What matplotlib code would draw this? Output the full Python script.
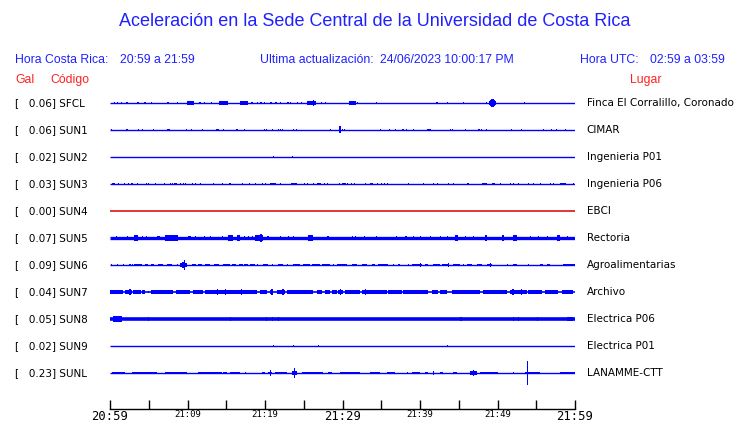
import matplotlib.pyplot as plt

# station info
stations = ["SFCL", "SUN1", "SUN2", "SUN3", "SUN4", "SUN5",
            "SUN6", "SUN7", "SUN8", "SUN9", "SUNL"]
gal = [0.06, 0.06, 0.02, 0.03, 0.00, 0.07, 0.09, 0.04, 0.05, 0.02, 0.23]
places = ["Finca El Corralillo, Coronado", "CIMAR", "Ingenieria P01",
          "Ingenieria P06", "EBCI", "Rectoria", "Agroalimentarias",
          "Archivo", "Electrica P06", "Electrica P01", "LANAMME-CTT"]

# time axis (minutes after 20:59)
tick_minutes = [0, 5, 10, 15, 20, 25, 30, 35, 40, 45, 50, 55, 60]
tick_labels = ["20:59", "", "21:09", "", "21:19", "", "21:29",
               "", "21:39", "", "21:49", "", "21:59"]
big_labels = ["20:59", "21:29", "21:59"]

# bursts: (start minute, end minute, half amplitude in row units)
sfcl_bursts = [
    (0.5, 0.5, .04), (0.9, 1.0, .04), (1.4, 1.4, .05), (2.1, 2.1, .04),
    (3.5, 3.7, .055), (4.4, 4.6, .04), (5.3, 5.3, .05), (7.4, 7.4, .03),
    (8.6, 8.6, .04), (9.9, 10.8, .06), (11.5, 11.7, .05), (12.1, 12.3, .05),
    (13.0, 13.0, .03), (14.1, 15.2, .065), (16.8, 17.8, .06), (18.2, 18.4, .05),
    (19.0, 19.0, .04), (19.4, 19.6, .05), (19.9, 19.9, .03), (20.6, 20.9, .05),
    (21.3, 21.5, .05), (21.9, 21.9, .03), (22.8, 23.1, .055), (23.2, 23.4, .04),
    (24.1, 24.1, .03), (24.6, 24.6, .03), (25.4, 26.6, .06), (26.2, 26.2, .1),
    (27.2, 27.3, .05), (27.7, 27.8, .05), (30.8, 31.7, .06), (31.9, 31.9, .03),
    (34.3, 34.3, .03), (42.1, 42.1, .04), (43.5, 43.5, .04), (45.5, 45.6, .05),
    (48.5, 48.5, .03), (48.9, 49.8, .06), (49.05, 49.65, .11), (49.2, 49.5, .16),
    (53.4, 53.4, .03)]

sun1_bursts = [
    (0.1, 0.1, .04), (2.1, 2.1, .04), (3.6, 3.8, .05), (4.1, 4.3, .05),
    (5.5, 5.5, .03), (7.4, 7.4, .04), (7.6, 7.6, .04), (9.8, 9.8, .04),
    (10.4, 10.4, .04), (11.9, 11.9, .03), (13.7, 14.0, .05), (14.6, 14.6, .04),
    (16.3, 16.3, .04), (17.3, 17.3, .04), (19.9, 19.9, .04), (20.1, 20.1, .04),
    (20.9, 20.9, .04), (21.7, 21.7, .04), (21.9, 21.9, .03), (22.2, 22.2, .04),
    (23.6, 23.8, .05), (24.0, 24.0, .03), (28.4, 28.4, .03), (29.6, 29.6, .13),
    (29.9, 29.9, .05), (30.2, 30.2, .04), (34.8, 35.0, .05), (36.0, 36.0, .04),
    (36.8, 36.8, .03), (37.7, 37.9, .05), (38.2, 38.2, .04), (39.1, 39.1, .03),
    (40.9, 41.1, .05), (41.2, 41.2, .04), (43.9, 44.0, .05), (44.1, 44.1, .04),
    (45.8, 45.8, .03), (47.5, 47.7, .05), (47.9, 47.9, .04), (48.5, 48.5, .03),
    (51.7, 51.7, .03), (53.0, 53.0, .04), (55.9, 55.9, .03), (56.9, 56.9, .04),
    (57.5, 57.5, .03), (58.7, 58.7, .03)]

sun2_bursts = [(21.0, 21.2, .05), (23.5, 23.5, .04)]

sun3_bursts = [
    (0.3, 0.6, .05), (1.0, 1.0, .04), (1.8, 1.8, .03), (2.3, 2.3, .04),
    (2.7, 3.0, .05), (3.5, 3.5, .04), (4.6, 4.6, .04), (4.9, 4.9, .04),
    (5.8, 5.8, .04), (7.0, 7.0, .04), (7.7, 7.7, .04), (8.0, 8.0, .04),
    (8.3, 8.6, .05), (9.0, 9.0, .04), (9.4, 9.4, .04), (9.7, 9.7, .04),
    (10.6, 10.6, .04), (11.0, 11.0, .04), (11.6, 11.6, .04), (13.3, 13.3, .04),
    (14.4, 14.4, .03), (15.4, 15.5, .05), (17.0, 17.0, .04), (17.9, 18.0, .05),
    (18.7, 18.8, .05), (19.6, 19.6, .04), (20.0, 20.0, .04), (20.6, 21.4, .055),
    (21.9, 22.0, .05), (23.3, 24.1, .055), (25.0, 25.0, .04), (25.4, 25.4, .04),
    (26.2, 26.3, .05), (26.7, 27.2, .05), (27.6, 27.6, .05), (28.0, 28.0, .04),
    (29.5, 29.5, .04), (29.9, 29.9, .04), (30.1, 30.1, .04), (30.3, 30.3, .04),
    (30.6, 30.6, .04), (31.1, 31.1, .04), (31.5, 31.5, .04), (32.9, 32.9, .04),
    (33.5, 33.9, .05), (34.4, 34.4, .04), (35.0, 35.0, .04), (35.3, 35.3, .04),
    (35.7, 35.7, .04), (38.4, 38.4, .03), (40.4, 40.4, .04), (41.7, 41.7, .04),
    (42.2, 42.2, .04), (43.6, 43.6, .04), (44.2, 44.3, .05), (46.1, 46.1, .04),
    (48.0, 48.6, .05), (49.3, 49.7, .05), (50.3, 50.3, .03), (51.6, 51.6, .04),
    (52.0, 52.0, .04), (52.6, 52.7, .05), (53.9, 53.9, .04), (54.6, 54.6, .04),
    (55.5, 55.5, .03), (56.8, 56.8, .04), (57.1, 57.2, .05), (58.1, 58.8, .05),
    (59.7, 59.7, .04)]

sun4_bursts = []

sun5_bursts = [
    (0.8, 0.8, .09), (2.2, 2.2, .08), (3.1, 3.6, .1), (4.1, 4.1, .08),
    (4.6, 4.6, .08), (6.1, 6.1, .09), (6.3, 6.3, .08), (7.1, 8.8, .1),
    (10.1, 10.4, .09), (11.0, 11.0, .08), (12.1, 12.1, .08), (12.9, 12.9, .08),
    (14.4, 14.4, .08), (15.2, 15.9, .1), (16.4, 16.8, .12), (17.3, 17.3, .09),
    (17.8, 17.8, .08), (18.3, 18.3, .08), (18.7, 19.7, .1), (19.4, 19.5, .13),
    (20.3, 20.3, .09), (21.9, 21.9, .08), (23.0, 23.0, .08), (23.6, 23.6, .08),
    (25.5, 26.2, .1), (28.0, 28.3, .09), (31.2, 31.2, .08), (31.6, 31.6, .08),
    (32.8, 32.8, .08), (34.3, 34.3, .08), (36.9, 36.9, .08), (38.1, 38.1, .08),
    (39.1, 39.2, .09), (40.0, 40.0, .08), (41.3, 41.3, .08), (42.6, 42.6, .08),
    (43.5, 43.5, .08), (44.5, 44.9, .1), (45.8, 45.8, .08), (46.8, 46.8, .08),
    (48.4, 48.7, .12), (50.6, 50.8, .11), (52.0, 52.5, .12), (54.2, 54.2, .08),
    (55.2, 55.2, .08), (56.4, 56.4, .08), (57.7, 58.1, .1), (59.0, 59.0, .09)]

sun6_bursts = [
    (0.1, 0.1, .04), (0.9, 0.9, .04), (1.7, 1.7, .04), (2.5, 2.5, .04),
    (2.8, 2.8, .04), (3.1, 4.1, .05), (4.5, 4.9, .05), (5.3, 5.7, .05),
    (6.2, 6.8, .05), (7.4, 8.0, .05), (8.6, 8.6, .04), (9.0, 9.9, .06),
    (9.3, 9.7, .1), (9.5, 9.5, .19), (10.6, 11.1, .05), (11.4, 11.9, .05),
    (12.3, 12.9, .05), (13.4, 14.1, .05), (14.6, 15.5, .05), (15.7, 16.3, .05),
    (16.6, 17.2, .05), (17.3, 17.8, .05), (18.1, 18.7, .05), (19.0, 19.0, .04),
    (19.7, 20.4, .05), (20.9, 20.9, .04), (21.7, 22.3, .05), (22.8, 22.8, .04),
    (23.6, 24.5, .05), (24.9, 25.8, .05), (26.1, 27.1, .05), (27.3, 28.4, .05),
    (28.8, 28.8, .04), (29.3, 30.6, .05), (31.2, 31.9, .05), (32.5, 33.2, .05),
    (33.8, 34.2, .05), (34.6, 35.9, .05), (36.5, 36.5, .04), (37.2, 37.2, .04),
    (38.4, 38.4, .04), (39.0, 40.2, .05), (40.0, 40.0, .09), (40.6, 41.0, .05),
    (41.7, 42.6, .05), (42.8, 43.6, .05), (43.6, 43.6, .09), (44.2, 45.2, .05),
    (45.5, 45.5, .04), (46.1, 46.7, .05), (47.3, 48.0, .05), (48.6, 49.3, .05),
    (49.0, 49.0, .08), (51.2, 51.2, .04), (52.0, 52.5, .05), (53.9, 53.9, .04),
    (55.5, 55.9, .05), (56.4, 56.8, .05), (58.4, 60.0, .05)]

sun7_bursts = [
    (0.0, 1.7, .06), (1.9, 2.8, .06), (3.0, 4.0, .06), (4.1, 4.5, .06),
    (4.9, 5.0, .05), (5.3, 8.1, .06), (8.5, 10.3, .06), (10.7, 12.0, .06),
    (12.3, 13.8, .06), (13.9, 19.0, .06), (19.4, 20.3, .06), (20.6, 21.0, .06),
    (21.5, 22.6, .06), (22.8, 26.2, .06), (26.7, 27.3, .06), (27.7, 28.4, .06),
    (28.6, 29.3, .06), (29.4, 30.1, .06), (30.3, 32.3, .06), (32.5, 35.7, .06),
    (35.9, 37.7, .06), (37.8, 41.0, .06), (41.5, 42.3, .06), (42.6, 43.5, .06),
    (44.1, 47.7, .06), (48.1, 51.2, .06), (51.6, 53.8, .06), (53.9, 55.7, .06),
    (56.1, 57.8, .06), (58.3, 59.7, .06),
    (2.5, 2.5, .1), (13.8, 13.8, .1), (14.8, 14.8, .1), (16.9, 16.9, .1),
    (20.8, 21.0, .11), (22.2, 22.4, .11), (29.7, 29.7, .1), (32.9, 32.9, .1),
    (51.9, 52.1, .1), (53.0, 53.2, .1)]

sun8_bursts = [
    (0.4, 1.5, .1), (4.9, 4.9, .09), (15.5, 15.5, .09), (20.1, 20.1, .09),
    (20.9, 20.9, .09), (21.7, 21.7, .08), (45.2, 45.3, .09), (52.0, 52.0, .09),
    (52.6, 52.6, .08), (55.1, 55.1, .08), (59.0, 59.7, .09)]

sun9_bursts = [(21.0, 21.2, .05), (23.6, 23.8, .05), (26.8, 26.8, .03),
               (43.5, 43.5, .03)]

sunl_bursts = [
    (0.3, 1.9, .035), (2.8, 6.1, .035), (7.1, 9.9, .035), (11.4, 14.5, .035),
    (14.6, 15.1, .035), (15.5, 16.8, .035), (17.4, 17.4, .03), (19.6, 20.0, .04),
    (20.4, 20.9, .05), (20.6, 20.6, .11), (21.3, 22.8, .035), (23.5, 24.1, .07),
    (23.7, 23.8, .19), (24.8, 27.5, .035), (28.1, 28.6, .035), (29.7, 32.3, .035),
    (30.3, 30.7, .04), (33.5, 34.8, .035), (35.7, 36.8, .035), (38.3, 38.3, .03),
    (39.0, 40.0, .035), (40.6, 41.0, .035), (41.7, 41.7, .08), (42.6, 43.0, .035),
    (44.2, 44.8, .04), (46.4, 47.4, .07), (46.8, 46.9, .12), (47.7, 50.0, .035),
    (52.0, 52.0, .04), (53.5, 55.5, .04), (53.8, 53.8, .43), (58.1, 60.0, .035)]

all_bursts = [sfcl_bursts, sun1_bursts, sun2_bursts, sun3_bursts, sun4_bursts,
              sun5_bursts, sun6_bursts, sun7_bursts, sun8_bursts, sun9_bursts,
              sunl_bursts]

# STYLE
BLUE = "#0000ff"
RED_TRACE = "#d40000"
HEAD_BLUE = "#2020ff"
HEAD_RED = "#ff2020"
base_width = [1.0, 1.0, 1.0, 1.0, 1.1, 2.4, 1.0, 1.2, 2.6, 1.0, 1.0]

fig = plt.figure(figsize=(7.4, 4.23), dpi=100)
fig.patch.set_facecolor("white")

ax = fig.add_axes([110 / 740, 14 / 423, 465 / 740, 319 / 423])
ax.set_xlim(0, 60)
ax.set_ylim(-11.333, 0.481)

# TRACES
for i, bursts in enumerate(all_bursts):
    row = -i
    color = RED_TRACE if gal[i] == 0 else BLUE
    ax.plot([0, 60], [row, row], color=color, lw=base_width[i],
            solid_capstyle="butt")
    if bursts:
        xs = [b[0] for b in bursts]
        ws = [max(b[1] - b[0], 0.16) for b in bursts]
        bots = [row - b[2] for b in bursts]
        hs = [2 * b[2] for b in bursts]
        ax.bar(xs, hs, width=ws, bottom=bots, align="edge",
               color=color, linewidth=0, antialiased=False)

    # left / right labels
    ax.text(-0.2043, row, "[   %.2f] %s" % (gal[i], stations[i]),
            transform=ax.get_yaxis_transform(), fontsize=7.5,
            va="center", ha="left", family="DejaVu Sans")
    ax.text(1.025, row, places[i], transform=ax.get_yaxis_transform(),
            fontsize=7.5, va="center", ha="left", family="DejaVu Sans")

# AXES
for s in ["top", "right", "left"]:
    ax.spines[s].set_visible(False)
ax.spines["bottom"].set_linewidth(1.0)
ax.set_yticks([])
ax.set_xticks(tick_minutes)
ax.set_xticklabels(tick_labels)
ax.tick_params(axis="x", direction="in", length=6.5, width=1.0, pad=0.5)
for lbl in ax.get_xticklabels():
    lbl.set_family("DejaVu Sans Mono")
    if lbl.get_text() in big_labels:
        lbl.set_fontsize(8.8)
    else:
        lbl.set_fontsize(6.5)

# HEADER
hfont = "Liberation Sans"
fig.text(375 / 740, 1 - 21 / 423,
         "Aceleración en la Sede Central de la Universidad de Costa Rica",
         ha="center", va="center", color=HEAD_BLUE, fontsize=13, family=hfont)

def head(x, y, s, color=HEAD_BLUE):
    fig.text(x / 740, 1 - y / 423, s, ha="left", va="center",
             color=color, fontsize=8.8, family=hfont)

head(15, 60, "Hora Costa Rica:")
head(120, 60, "20:59 a 21:59")
head(260, 60, "Ultima actualización:")
head(380, 60, "24/06/2023 10:00:17 PM")
head(580, 60, "Hora UTC:")
head(650, 60, "02:59 a 03:59")
head(15, 80, "Gal", HEAD_RED)
head(50, 80, "Código", HEAD_RED)
head(630, 80, "Lugar", HEAD_RED)

plt.savefig("out.png", dpi=100, facecolor=fig.get_facecolor())
plt.close()
